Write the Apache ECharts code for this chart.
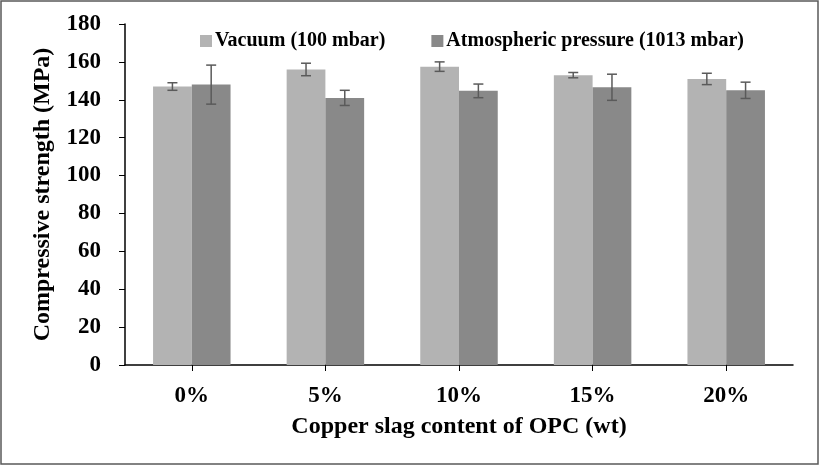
<!DOCTYPE html>
<html>
<head>
<meta charset="utf-8">
<script src="https://cdn.jsdelivr.net/npm/echarts@6/dist/echarts.min.js"></script>
<style>
  html, body { margin: 0; padding: 0; background: #fff; }
  #chart { width: 820px; height: 466px; }
</style>
</head>
<body>
<div id="chart"></div>
<script>
  // 数据
  var categories = ['0%', '5%', '10%', '15%', '20%'];
  var vacuum = [147, 156, 157.5, 153, 151];
  var vacuumErr = [2, 3.3, 2.5, 1.4, 3];
  var atmos = [148, 141, 144.7, 146.6, 145];
  var atmosErr = [10.3, 4, 3.6, 6.9, 4.3];

  var serif = "'Liberation Serif', 'Times New Roman', serif";
  var myChart = echarts.init(document.getElementById('chart'));

  // 误差线
  function errorSeries(values, errs, side) {
    return {
      type: 'custom',
      silent: true,
      z: 5,
      renderItem: function (params, api) {
        var i = api.value(0);
        var band = api.size([1, 0])[0];
        var off = side * band * 0.145;
        var top = api.coord([i, api.value(1) + api.value(2)]);
        var bot = api.coord([i, api.value(1) - api.value(2)]);
        var x = top[0] + off;
        var cap = 5;
        var style = { stroke: '#5a5a5a', lineWidth: 1.5 };
        return {
          type: 'group',
          children: [
            { type: 'line', shape: { x1: x, y1: top[1], x2: x, y2: bot[1] }, style: style },
            { type: 'line', shape: { x1: x - cap, y1: top[1], x2: x + cap, y2: top[1] }, style: style },
            { type: 'line', shape: { x1: x - cap, y1: bot[1], x2: x + cap, y2: bot[1] }, style: style }
          ]
        };
      },
      data: values.map(function (v, i) { return [i, v, errs[i]]; })
    };
  }

  var option = {
    animation: false,
    graphic: [{
      type: 'rect',
      shape: { x: 1, y: 1, width: 817, height: 463 },
      style: { fill: 'none', stroke: '#5a5a5a', lineWidth: 1.5 },
      silent: true
    }],
    legend: {
      left: 195,
      top: 26,
      itemWidth: 12,
      itemHeight: 12,
      itemGap: 46,
      icon: 'rect',
      textStyle: { fontFamily: serif, fontWeight: 'bold', fontSize: 20, color: '#000', padding: [0, 0, 0, -2] },
      data: ['Vacuum (100 mbar)', 'Atmospheric pressure (1013 mbar)']
    },
    grid: { left: 125, right: 27, top: 24, bottom: 101, containLabel: false },
    xAxis: {
      type: 'category',
      data: categories,
      name: 'Copper slag content of OPC (wt)',
      nameLocation: 'middle',
      nameGap: 50,
      nameTextStyle: { fontFamily: serif, fontWeight: 'bold', fontSize: 24, color: '#000' },
      axisLine: { lineStyle: { color: '#000', width: 1.5 } },
      axisTick: { show: true, alignWithLabel: true, length: 6, lineStyle: { color: '#000' } },
      axisLabel: { fontFamily: serif, fontWeight: 'bold', fontSize: 23, color: '#000', margin: 20 }
    },
    yAxis: {
      type: 'value',
      min: 0,
      max: 180,
      interval: 20,
      name: 'Compressive strength (MPa)',
      nameLocation: 'middle',
      nameGap: 70,
      nameTextStyle: { fontFamily: serif, fontWeight: 'bold', fontSize: 24, color: '#000' },
      axisLine: { show: true, lineStyle: { color: '#000', width: 1.5 } },
      axisTick: { show: true, length: 6, lineStyle: { color: '#000' } },
      splitLine: { show: false },
      axisLabel: { fontFamily: serif, fontWeight: 'bold', fontSize: 23, color: '#000', margin: 24 }
    },
    series: [
      {
        name: 'Vacuum (100 mbar)',
        type: 'bar',
        barWidth: '29%',
        barGap: '0%',
        itemStyle: { color: '#b3b3b3' },
        data: vacuum
      },
      {
        name: 'Atmospheric pressure (1013 mbar)',
        type: 'bar',
        barWidth: '29%',
        barGap: '0%',
        itemStyle: { color: '#898989' },
        data: atmos
      },
      errorSeries(vacuum, vacuumErr, -1),
      errorSeries(atmos, atmosErr, 1)
    ]
  };

  myChart.setOption(option);
</script>
</body>
</html>
